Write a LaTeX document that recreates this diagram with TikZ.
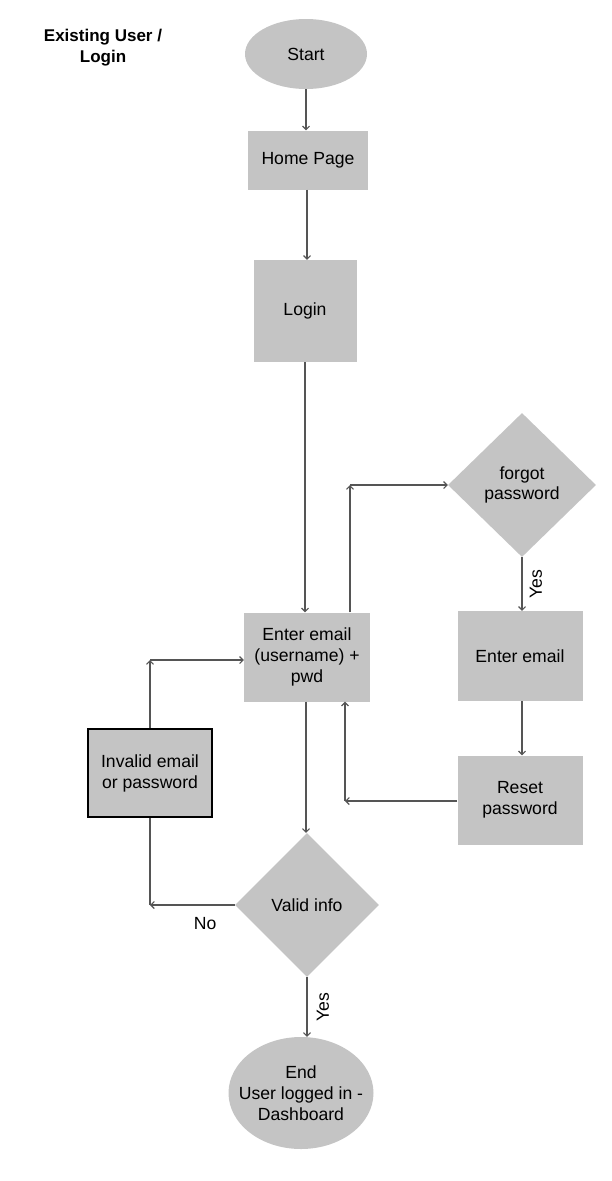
\documentclass[tikz,border=0pt]{standalone}
\usepackage{fontspec}
\setmainfont{Liberation Sans}
\usetikzlibrary{shapes.geometric,arrows.meta}
\definecolor{shade}{RGB}{196,196,196}
\definecolor{linec}{RGB}{85,85,85}
\tikzset{
  flow/.style={fill=shade, inner sep=0pt, align=center, font=\fontsize{17.6}{21}\selectfont},
  box/.style={flow, rectangle},
  oval/.style={flow, ellipse},
  choice/.style={flow, diamond},
  link/.style={draw=linec, line width=1.1pt, -{Straight Barb[length=3.5pt,width=7pt]}},
  tag/.style={font=\fontsize{17.6}{21}\selectfont}
}
\begin{document}
\begin{tikzpicture}[x=1pt,y=-1pt]
      \useasboundingbox (0,0) rectangle (612,1181);
      \node[font=\fontsize{17}{21}\bfseries\selectfont, align=center] (title) at (103,48) {Existing User /\\Login};
      \path
        (306,54) node[oval, minimum width=122pt, minimum height=70pt] (start) {Start}
        (308,160) node[box, minimum width=120pt, minimum height=59pt] (home) {Home Page}
        (305,311) node[box, minimum width=103pt, minimum height=102pt] (login) {Login}
        (307,657) node[box, minimum width=126pt, minimum height=89pt] (enter) {Enter email\\(username) +\\pwd}
        (522,485) node[choice, minimum width=148pt, minimum height=144pt] (forgot) {\raisebox{3pt}{\shortstack{forgot\\password}}}
        (520,656) node[box, minimum width=125pt, minimum height=90pt] (email) {Enter email}
        (520,800) node[box, minimum width=125pt, minimum height=89pt] (reset) {Reset\\password}
        (150,773) node[box, draw=black, line width=1.2pt, minimum width=124pt, minimum height=88pt] (invalid) {Invalid email\\or password}
        (307,905) node[choice, minimum width=144pt, minimum height=144pt] (valid) {Valid info}
        (301,1093) node[oval, minimum width=145pt, minimum height=112pt] (finish) {End\\\makebox[96pt]{User logged in -}\\Dashboard};
      \coordinate (fp) at (350,485);
      \coordinate (rp) at (345,801);
      \coordinate (lp) at (150,660);
      \coordinate (np) at (150,905);
      \begin{scope}[link]
        \draw (start.south) to (start.south |- home.north);
        \draw (home.south -| 307,0) to (307,0 |- login.north);
        \draw (login.south) to (login.south |- enter.north);
        \draw (enter.north -| fp) to (fp);
        \draw (fp) to (forgot.west);
        \draw (forgot.south -| 522,0) to node[tag, rotate=90, anchor=north, yshift=-4pt] {Yes} (522,0 |- email.north);
        \draw (email.south -| 522,0) to (522,0 |- reset.north);
        \draw (reset.west |- rp) to (rp);
        \draw (rp) to (enter.south -| rp);
        \draw (enter.south -| 306,0) to (306,0 |- valid.north);
        \draw (valid.west) to node[tag, pos=0.35, below=8pt] {No} (np);
        \draw[-] (np) to (invalid.south);
        \draw (invalid.north) to (lp);
        \draw (lp) to (enter.west |- lp);
        \draw (valid.south) to node[tag, rotate=90, anchor=north, yshift=-6pt] {Yes} (valid.south |- finish.north);
      \end{scope}
    \end{tikzpicture}
\end{document}
